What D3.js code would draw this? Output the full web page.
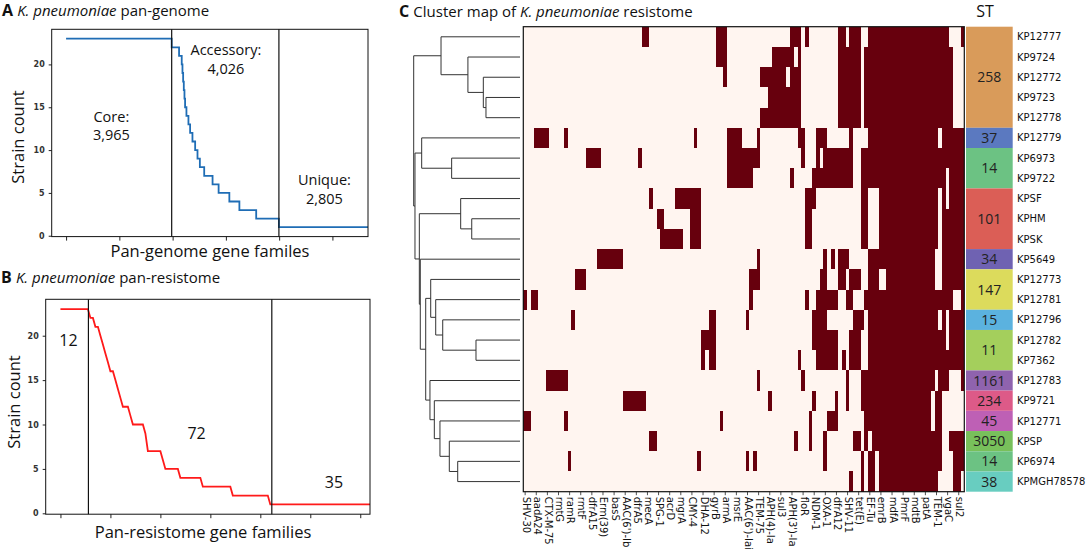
<!DOCTYPE html>
<html><head><meta charset="utf-8">
<script src="https://cdn.jsdelivr.net/npm/d3@7"></script>
<style>body{margin:0;background:#fff}svg{display:block}</style>
</head><body><svg id="c" width="1088" height="554"></svg>
<script>
// ---------------- DATA ----------------
// Panel A: pan-genome step curve, [gene-family index where count starts, strain count]
const genomeSteps = [[0,23],[3965,22],[4242,21],[4342,20],[4370,19],[4395,18],[4420,17],[4445,16],[4468,15],
  [4519,14],[4594,13],[4657,12],[4745,11],[4846,10],[4934,9],[5023,8],[5186,7],[5500,6],[5727,5],[6130,4],
  [6507,3],[7138,2],[7991,1]];
const genomeBounds = [3965, 7991];
const genomeTicks = [0,2000,4000,6000,8000,10000];
const genomeLabels = [["Core:","3,965"],["Accessory:","4,026"],["Unique:","2,805"]];
// Panel B: strain count of each resistance gene family (sorted)
const resCounts = [23,23,23,23,23,23,23,23,23,23,23,23,22,22,21,21,20,19,18,17,16,16,15,14,13,12,12,12,11,
  10,10,10,10,10,9,7,7,7,7,7,7,6,5,5,5,5,5,5,4,4,4,4,4,4,4,4,4,3,3,3,3,3,3,3,3,3,3,3,3,
  2,2,2,2,2,2,2,2,2,2,2,2,2,2,2,
  1,1,1,1,1,1,1,1,1,1,1,1,1,1,1,1,1,1,1,1,1,1,1,1,1,1,1,1,1,1,1,1,1,1,1];
const resBounds = [11.2, 84.6];
const resTicks = [0,20,40,60,80,100,120];
const resLabels = ["12","72","35"];
const yTicks = [0,5,10,15,20];
// Panel C
const strains = ["KP12777","KP9724","KP12772","KP9723","KP12778","KP12779","KP6973","KP9722","KPSF","KPHM","KPSK",
  "KP5649","KP12773","KP12781","KP12796","KP12782","KP7362","KP12783","KP9721","KP12771","KPSP","KP6974","KPMGH78578"];
const nGenes = 119;
const geneLabels = ["SHV-30","aadA24","CTX-M-75","rmtG","ramR","rmtF","dfrA15","Erm(39)","basS","AAC(6')-Ib","dfrA5",
  "mecA","SPG-1","acrD","mgrA","CMY-4","DHA-12","gyrB","armA","msrE","AAC(6')-Iai","TEM-75","APH(4)-Ia","sul3",
  "APH(3')-Ia","floR","NDM-1","OXA-1","dfrA12","SHV-11","tet(E)","EF-Tu","emrB","mdfA","PmrF","mdtB","patA",
  "TEM-1","vgaC","sul2"];
const labelEvery = 3;
// presence (dark) gene columns per strain row
const presence = [
  "32-33,52-54,72-74,76,85-86,88-90,93-114,118",
  "52-54,67-72,74,85-90,92-115",
  "54,64-70,72-74,85-90,92-115",
  "66-74,85-90,92-115",
  "64-74,85-90,92-115",
  "3-6,11,46,55-58,63,74-75,79-81,88,93-111,113-118",
  "17-20,31,55-63,75,79,81-88,91-118",
  "55-61,72,78-88,91-113,115-118",
  "34,41-47,76-78,91-92,96-111,113,115-118",
  "36-37,45-47,76-77,91-92,96-111,113-118",
  "37-42,45-47,76-77,91-92,96-111,113-118",
  "20-26,63,81,83,85-87,93-110,113-118",
  "14-16,61-63,80-81,85-86,88-90,93-95,98-110,113-118",
  "0,2-3,61,76,79-84,87-88,92-115,118",
  "13,50-51,60,78-81,89-91,93-111,113,115-118",
  "48-51,78-84,88-90,93-113,115-118",
  "48,50-51,74,79-84,86,88-90,93-118",
  "6-11,63,75,87,91-110,112-114,118",
  "27-32,66,78,84,87,91-109,111-112",
  "0-1,11,53,77,82-84,92-109,111-112",
  "34-35,73,77,81,89-90,92,94-112,115-118",
  "12,47,60,62,81,91,93-94,96-112,116-118",
  "88,91,93-94,96-111,116-117"
];
// row dendrogram linkage: [child a, child b, merge height]; leaves 0..22, internal nodes 23..
const linkage = [
  [3,4,0.32],[2,23,0.345],[1,24,0.49],[0,25,0.743],
  [6,7,0.643],[5,27,0.925],
  [9,10,0.454],[8,29,0.558],
  [15,16,0.414],[14,31,0.727],[13,32,0.793],[12,33,0.84],
  [21,22,0.586],[20,35,0.665],[19,36,0.753],[18,37,0.806],[17,38,0.847],
  [34,39,0.887],[11,40,0.938],[30,41,0.947],[28,42,0.988],[26,43,1.0]
];
// sequence types
const stNames = ["258","37","14","101","34","147","15","11","1161","234","45","3050","14","38"];
const stSizes = [5,1,2,3,1,2,1,2,1,1,1,1,1,1];
const stColors = ["#d99b5a","#5b79c0","#6cc283","#db5e56","#6f62b2","#dcdb5c","#5bb2df","#a4cf5c","#8f63ae",
  "#dd5a88","#be60b5","#78c05b","#6cc283","#68cdc0"];

// ---------------- DRAW ----------------
const svg = d3.select("#c");
const sans = "'Open Sans', 'Liberation Sans', sans-serif";
const dv = "'DejaVu Sans', sans-serif";

function title(x, y, letter, pre, rest) {
  const t = svg.append("text").attr("x", x).attr("y", y).attr("font-family", sans).attr("font-size", 15).attr("fill", "#111");
  t.append("tspan").attr("font-weight", "bold").attr("font-size", 16).text(letter + " ");
  if (pre) t.append("tspan").text(pre);
  t.append("tspan").attr("font-style", "italic").text("K. pneumoniae");
  t.append("tspan").text(rest);
}

function panel(opts) {
  const {x, y, ticksX, clipId} = opts;
  const [x0, x1] = x.range(), [yb, yt] = y.range();
  const g = svg.append("g");
  svg.append("clipPath").attr("id", clipId).append("rect").attr("x", x0).attr("y", yt).attr("width", x1 - x0).attr("height", yb - yt);
  const ax = g.append("g").attr("transform", `translate(0,${yb})`).call(d3.axisBottom(x).tickValues(ticksX).tickFormat("").tickSize(4));
  ax.select(".domain").remove();
  ax.selectAll("line").attr("stroke", "#222");
  const ay = g.append("g").attr("transform", `translate(${x0},0)`).call(d3.axisLeft(y).tickValues(yTicks).tickSize(3).tickPadding(4));
  ay.select(".domain").remove();
  ay.selectAll("line").attr("stroke", "#222");
  ay.selectAll("text").attr("font-family", dv).attr("font-size", 8).attr("font-weight", "bold").attr("fill", "#333");
  return g;
}

// Panel A
title(2, 16, "A", "", " pan-genome");
const xA = d3.scaleLinear().domain([-540, 11336]).range([51.7, 368]);
const yA = d3.scaleLinear().domain([-0.1, 24.1]).range([236.6, 29.3]);
const gA = panel({x: xA, y: yA, ticksX: genomeTicks, clipId: "clipA"});
const ptsA = genomeSteps.map(d => [xA(d[0]), yA(d[1])]);
ptsA.push([xA(xA.domain()[1]), yA(genomeSteps[genomeSteps.length - 1][1])]);
gA.append("path").attr("clip-path", "url(#clipA)").attr("d", d3.line().curve(d3.curveStepAfter)(ptsA))
  .attr("fill", "none").attr("stroke", "#1f6db5").attr("stroke-width", 1.8);
genomeBounds.forEach(b => gA.append("line").attr("x1", xA(b)).attr("x2", xA(b)).attr("y1", yA.range()[0]).attr("y2", yA.range()[1])
  .attr("stroke", "#111").attr("stroke-width", 1.2));
gA.append("rect").attr("x", 51.7).attr("y", 29.3).attr("width", 368 - 51.7).attr("height", 236.6 - 29.3)
  .attr("fill", "none").attr("stroke", "#111").attr("stroke-width", 1);
const posA = [[1700, 121.5], [6000, 55], [9700, 185]];
genomeLabels.forEach((l, i) => {
  const t = gA.append("text").attr("font-family", sans).attr("font-size", 14.5).attr("text-anchor", "middle").attr("fill", "#111");
  t.append("tspan").attr("x", xA(posA[i][0])).attr("y", posA[i][1]).text(l[0]);
  t.append("tspan").attr("x", xA(posA[i][0])).attr("y", posA[i][1] + 18.5).text(l[1]);
});
svg.append("text").attr("transform", "translate(24,137) rotate(-90)").attr("text-anchor", "middle")
  .attr("font-family", sans).attr("font-size", 16.5).attr("fill", "#111").text("Strain count");
svg.append("text").attr("x", 210).attr("y", 257).attr("text-anchor", "middle")
  .attr("font-family", sans).attr("font-size", 16.5).attr("fill", "#111").text("Pan-genome gene familes");

// Panel B
title(1, 283, "B", "", " pan-resistome");
const xB = d3.scaleLinear().domain([-5.9, 123.9]).range([45.7, 370]);
const yB = d3.scaleLinear().domain([-0.1, 24.1]).range([514.2, 299.3]);
const gB = panel({x: xB, y: yB, ticksX: resTicks, clipId: "clipB"});
const ptsB = resCounts.map((c, i) => [xB(i), yB(c)]);
ptsB.push([xB(xB.domain()[1]), yB(resCounts[resCounts.length - 1])]);
gB.append("path").attr("clip-path", "url(#clipB)").attr("d", d3.line()(ptsB))
  .attr("fill", "none").attr("stroke", "#ff1a1a").attr("stroke-width", 1.8);
resBounds.forEach(b => gB.append("line").attr("x1", xB(b)).attr("x2", xB(b)).attr("y1", yB.range()[0]).attr("y2", yB.range()[1])
  .attr("stroke", "#111").attr("stroke-width", 1.2));
gB.append("rect").attr("x", 45.7).attr("y", 299.3).attr("width", 370 - 45.7).attr("height", 514.2 - 299.3)
  .attr("fill", "none").attr("stroke", "#111").attr("stroke-width", 1);
const posB = [[3.2, 346], [54.5, 439], [109.5, 487.5]];
resLabels.forEach((l, i) => gB.append("text").attr("x", xB(posB[i][0])).attr("y", posB[i][1]).attr("text-anchor", "middle")
  .attr("font-family", sans).attr("font-size", 16).attr("fill", "#111").text(l));
svg.append("text").attr("transform", "translate(20,402) rotate(-90)").attr("text-anchor", "middle")
  .attr("font-family", sans).attr("font-size", 16.5).attr("fill", "#111").text("Strain count");
svg.append("text").attr("x", 203).attr("y", 538).attr("text-anchor", "middle")
  .attr("font-family", sans).attr("font-size", 16.5).attr("fill", "#111").text("Pan-resistome gene families");

// Panel C
title(399, 17, "C", "Cluster map of ", " resistome");

const xH = d3.scaleBand().domain(d3.range(nGenes)).range([523.3, 964.3]);
const yH = d3.scaleBand().domain(d3.range(strains.length)).range([26.7, 491.7]);
const gH = svg.append("g");
gH.append("rect").attr("x", xH.range()[0]).attr("y", yH.range()[0]).attr("width", xH.range()[1] - xH.range()[0])
  .attr("height", yH.range()[1] - yH.range()[0]).attr("fill", "#fff5f0");
const runs = [];
presence.forEach((s, r) => s.split(",").forEach(tok => {
  const [a, b] = tok.split("-").map(Number);
  runs.push({r, a, b: b === undefined ? a : b});
}));
gH.selectAll("rect.cell").data(runs).join("rect").attr("class", "cell")
  .attr("x", d => xH(d.a)).attr("y", d => yH(d.r))
  .attr("width", d => xH(d.b) + xH.bandwidth() - xH(d.a)).attr("height", yH.bandwidth())
  .attr("fill", "#67000d").attr("shape-rendering", "crispEdges");
gH.append("rect").attr("x", xH.range()[0]).attr("y", yH.range()[0]).attr("width", xH.range()[1] - xH.range()[0])
  .attr("height", yH.range()[1] - yH.range()[0]).attr("fill", "none").attr("stroke", "#111").attr("stroke-width", 1.2);
// column ticks & labels
const labeled = geneLabels.map((name, i) => ({name, col: i * labelEvery}));
gH.selectAll("line.ct").data(labeled).join("line").attr("class", "ct")
  .attr("x1", d => xH(d.col) + xH.bandwidth() / 2).attr("x2", d => xH(d.col) + xH.bandwidth() / 2)
  .attr("y1", yH.range()[1]).attr("y2", yH.range()[1] + 3.5).attr("stroke", "#222").attr("stroke-width", 0.8);
gH.selectAll("text.cl").data(labeled).join("text").attr("class", "cl")
  .attr("transform", d => `translate(${xH(d.col) + xH.bandwidth() / 2 + 1},${yH.range()[1] + 5}) rotate(90)`)
  .attr("dominant-baseline", "central").attr("font-family", dv).attr("font-size", 10).attr("fill", "#111").text(d => d.name);

// dendrogram
const xD = d3.scaleLinear().domain([0, 1]).range([520, 413.7]);
const nodeY = strains.map((s, i) => yH(i) + yH.bandwidth() / 2);
const nodeH = strains.map(() => 0);
const gD = svg.append("g").attr("fill", "none").attr("stroke", "#333").attr("stroke-width", 1);
linkage.forEach(([a, b, h]) => {
  gD.append("path").attr("d", `M${xD(nodeH[a])},${nodeY[a]}H${xD(h)}V${nodeY[b]}H${xD(nodeH[b])}`);
  nodeY.push((nodeY[a] + nodeY[b]) / 2);
  nodeH.push(h);
});

// ST column
const stX0 = 966, stX1 = 1012.7;
let start = 0;
stNames.forEach((st, i) => {
  const y0 = yH(start), y1 = yH(start + stSizes[i] - 1) + yH.bandwidth();
  svg.append("rect").attr("x", stX0).attr("y", y0).attr("width", stX1 - stX0).attr("height", y1 - y0).attr("fill", stColors[i]);
  svg.append("text").attr("x", (stX0 + stX1) / 2).attr("y", (y0 + y1) / 2).attr("dy", "0.36em").attr("text-anchor", "middle")
    .attr("font-family", sans).attr("font-size", 14).attr("fill", "#222").text(st);
  start += stSizes[i];
});
svg.append("text").attr("x", 985).attr("y", 17).attr("text-anchor", "middle").attr("font-family", sans)
  .attr("font-size", 16).attr("fill", "#111").text("ST");
svg.selectAll("text.rl").data(strains).join("text").attr("class", "rl")
  .attr("x", 1017).attr("y", (d, i) => yH(i) + yH.bandwidth() / 2).attr("dy", "0.36em")
  .attr("font-family", dv).attr("font-size", 10).attr("fill", "#111").text(d => d);
</script></body></html>
